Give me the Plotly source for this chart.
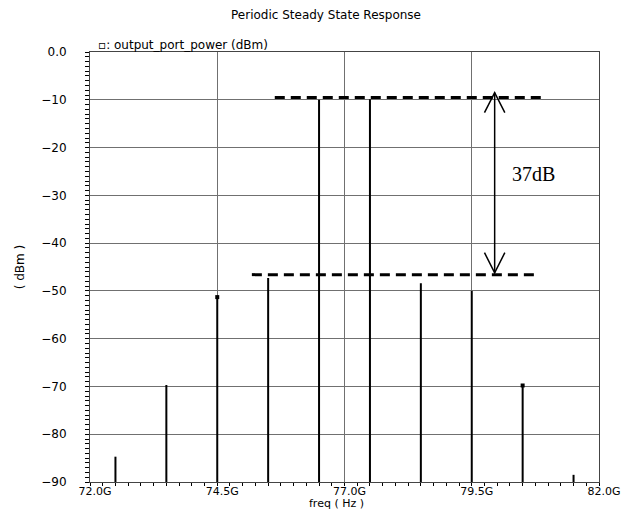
import plotly.graph_objects as go

# ---- data ----
freqs_ghz = [72.5, 73.5, 74.5, 75.5, 76.5, 77.5, 78.5, 79.5, 80.5, 81.5]
power_dbm = [-84.7, -69.7, -51.3, -47.3, -10.0, -9.9, -48.4, -50.0, -69.8, -88.5]
marker_idx = [2, 8]          # harmonics drawn with a small symbol

x_tickvals = [72.0, 74.5, 77.0, 79.5, 82.0]
x_ticktext = ["72.0G", "74.5G", "77.0G", "79.5G", "82.0G"]
y_tickvals = [0, -10, -20, -30, -40, -50, -60, -70, -80, -90]
y_ticktext = ["0.0", "−10", "−20", "−30", "−40", "−50", "−60", "−70", "−80", "−90"]

floor_dbm = -90.0

# annotation geometry (reference levels and arrow)
upper_level = -9.5
upper_span = [75.63, 80.94]
lower_level = -46.6
lower_span = [75.18, 80.80]
arrow_x = 79.95
arrow_top = -8.5
arrow_bottom = -46.2
head_dx = 0.2
head_dy = 4.2
label_text = "37dB"
label_pos = (80.72, -25.5)

FONT = "DejaVu Sans"

# ---- build stems ----
stem_x, stem_y = [], []
for f, p in zip(freqs_ghz, power_dbm):
    stem_x += [f, f, None]
    stem_y += [floor_dbm, p, None]

fig = go.Figure()
fig.add_trace(go.Scatter(x=stem_x, y=stem_y, mode="lines",
                         line=dict(color="black", width=2),
                         hoverinfo="skip", showlegend=False))
fig.add_trace(go.Scatter(x=[freqs_ghz[i] for i in marker_idx],
                         y=[power_dbm[i] for i in marker_idx],
                         mode="markers",
                         marker=dict(symbol="square", size=4, color="black"),
                         showlegend=False))

dash_line = dict(color="black", width=3, dash="10px,6px")
fig.add_shape(type="line", x0=upper_span[0], x1=upper_span[1],
              y0=upper_level, y1=upper_level, line=dash_line)
fig.add_shape(type="line", x0=lower_span[0], x1=lower_span[1],
              y0=lower_level, y1=lower_level, line=dash_line)
arrow_line = dict(color="black", width=1.5)
fig.add_shape(type="line", x0=arrow_x, x1=arrow_x, y0=arrow_top, y1=arrow_bottom,
              line=arrow_line)
fig.add_shape(type="path",
              path=f"M {arrow_x-head_dx},{arrow_top-head_dy} L {arrow_x},{arrow_top} "
                   f"L {arrow_x+head_dx},{arrow_top-head_dy}",
              line=arrow_line)
fig.add_shape(type="path",
              path=f"M {arrow_x-head_dx},{arrow_bottom+head_dy} L {arrow_x},{arrow_bottom} "
                   f"L {arrow_x+head_dx},{arrow_bottom+head_dy}",
              line=arrow_line)

fig.add_annotation(x=label_pos[0], y=label_pos[1], text=label_text, showarrow=False,
                   font=dict(family="Liberation Serif", size=20, color="black"),
                   xanchor="center", yanchor="middle")

fig.add_annotation(xref="paper", yref="paper", x=6/509, y=1.0, yshift=7,
                   text="▫: output_port_power (dBm)", showarrow=False,
                   xanchor="left", yanchor="middle",
                   font=dict(family=FONT, size=12, color="black"))

# x-axis title placed as an annotation (sits close under the tick labels)
fig.add_annotation(xref="paper", yref="paper", x=(336 - 90) / 509, y=0, yshift=-29,
                   text="freq ( Hz )", showarrow=False,
                   xanchor="center", yanchor="bottom", borderpad=0,
                   font=dict(family=FONT, size=11, color="black"))

# tick labels: linear ticks (so minor ticks work) + alias to the reference text
x_alias = {f"{v:.1f}": t for v, t in zip(x_tickvals, x_ticktext)}
y_alias = {("0" if v == 0 else f"−{abs(v)}"): t for v, t in zip(y_tickvals, y_ticktext)}

grid_color = "#707070"
fig.update_layout(
    width=630, height=511,
    margin=dict(l=90, r=31, t=52, b=29, autoexpand=False),
    paper_bgcolor="white", plot_bgcolor="white",
    font=dict(family=FONT, size=12, color="black"),
    title=dict(text="Periodic Steady State Response", x=326/630, xanchor="center",
               y=1 - 15/511, yanchor="middle",
               font=dict(family=FONT, size=12, color="black")),
    xaxis=dict(range=[72, 82], tickmode="linear", tick0=x_tickvals[0],
               dtick=x_tickvals[1] - x_tickvals[0], tickformat=".1f",
               labelalias=x_alias, automargin=False,
               showgrid=True, gridcolor=grid_color, gridwidth=1,
               showline=True, linecolor="#444444", linewidth=1, mirror=True,
               ticks="outside", ticklen=3, tickcolor="black",
               ticklabelshift=5, ticklabelstandoff=-4,
               tickfont=dict(family=FONT, size=11),
               minor=dict(tick0=72, dtick=0.25, ticks="outside", ticklen=3,
                          tickcolor="black", showgrid=False),
               zeroline=False),
    yaxis=dict(range=[-90, 0], tickmode="linear", tick0=y_tickvals[0],
               dtick=y_tickvals[0] - y_tickvals[1],
               labelalias=y_alias, automargin=False,
               showgrid=True, gridcolor=grid_color, gridwidth=1,
               showline=True, linecolor="#444444", linewidth=1, mirror=True,
               ticks="outside", ticklen=4, tickcolor="black",
               ticklabelstandoff=16,
               minor=dict(tick0=0, dtick=1, ticks="outside", ticklen=4,
                          tickcolor="black", showgrid=False),
               zeroline=False,
               title=dict(text="( dBm )", standoff=14,
                          font=dict(family=FONT, size=12))),
)

fig.write_html("out.html", config={"displayModeBar": False},
               post_script="document.body.style.margin='0';")
